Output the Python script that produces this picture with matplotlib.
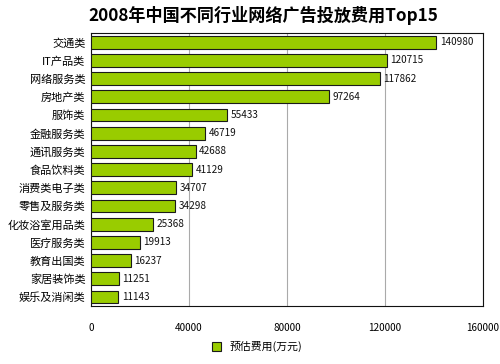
import matplotlib
matplotlib.use("Agg")
import matplotlib.pyplot as plt
from matplotlib.patches import Patch

plt.rcParams['font.family'] = ['Noto Sans CJK SC', 'DejaVu Sans']

categories = ["交通类", "IT产品类", "网络服务类", "房地产类", "服饰类", "金融服务类", "通讯服务类",
              "食品饮料类", "消费类电子类", "零售及服务类", "化妆浴室用品类", "医疗服务类",
              "教育出国类", "家居装饰类", "娱乐及消闲类"]
values = [140980, 120715, 117862, 97264, 55433, 46719, 42688, 41129, 34707, 34298,
          25368, 19913, 16237, 11251, 11143]
xticks = [0, 40000, 80000, 120000, 160000]
title = "2008年中国不同行业网络广告投放费用Top15"
legend_label = "预估费用(万元)"

fig = plt.figure(figsize=(5.0, 3.64), dpi=100)
ax = fig.add_axes([0.182, 0.159, 0.784, 0.75])

color = "#99CC00"
y = list(range(len(categories)))
ax.barh(y, values, height=0.7, color=color, edgecolor="#1a1a1a", linewidth=0.8, zorder=3)
for yi, v in zip(y, values):
    ax.text(v + 1500, yi, str(v), va="center", ha="left", fontsize=7.2, color="#111111", zorder=4)

ax.set_xlim(0, 160000)
ax.set_ylim(len(categories) - 0.5, -0.5)
ax.set_yticks(y)
ax.set_yticklabels(categories, fontsize=8)
ax.set_xticks(xticks)
ax.set_xticklabels([str(t) for t in xticks], fontsize=7.2)
ax.tick_params(axis="both", length=0)
ax.tick_params(axis="x", pad=12)
ax.tick_params(axis="y", pad=4)
ax.grid(axis="x", color="#aaaaaa", linewidth=0.8, zorder=0)
for s in ax.spines.values():
    s.set_color("#111111")
    s.set_linewidth(0.8)

fig.text(0.527, 0.958, title, ha="center", va="center", fontsize=12.3, fontweight="bold")
fig.legend(handles=[Patch(facecolor=color, edgecolor="#1a1a1a", linewidth=0.8)],
           labels=[legend_label], loc="center", bbox_to_anchor=(0.515, 0.047),
           frameon=False, fontsize=7.8, handlelength=0.8, handleheight=0.8, handletextpad=0.8)

fig.savefig("out.png", dpi=100)
